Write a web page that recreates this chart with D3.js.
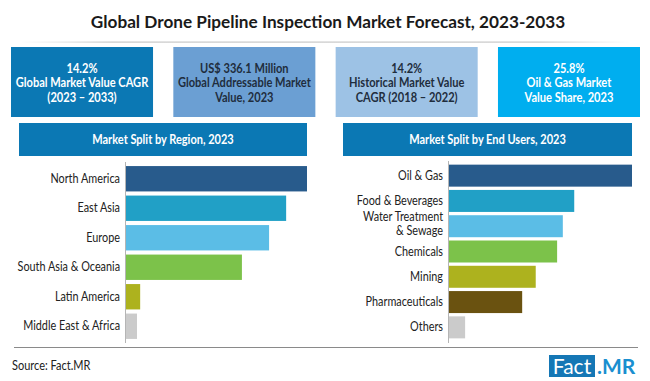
<!DOCTYPE html>
<html><head><meta charset="utf-8">
<script src="https://cdn.jsdelivr.net/npm/d3@7"></script>
<style>body{margin:0;background:#fff}svg{display:block}</style>
</head><body><svg id="c" width="650" height="381"></svg>
<script>
const title = "Global Drone Pipeline Inspection Market Forecast, 2023-2033";
const kpiLines = [
  ["14.2%", "Global Market Value CAGR", "(2023 \u2013 2033)"],
  ["US$ 336.1 Million", "Global Addressable Market", "Value, 2023"],
  ["14.2%", "Historical Market Value", "CAGR (2018 \u2013 2022)"],
  ["25.8%", "Oil & Gas Market", "Value Share, 2023"]
];
const kpiFills = ["#0b78b4", "#6b9fd3", "#9dc2e5", "#00aeef"];
const kpiText = ["#ffffff", "#1f2d3d", "#1f2d3d", "#ffffff"];

const regionTitle = "Market Split by Region, 2023";
const regions = ["North America", "East Asia", "Europe", "South Asia & Oceania", "Latin America", "Middle East & Africa"];
const regionValues = [28.8, 25.5, 22.8, 18.5, 2.4, 1.9];

const userTitle = "Market Split by End Users, 2023";
const endUsers = ["Oil & Gas", "Food & Beverages", "Water Treatment\n& Sewage", "Chemicals", "Mining", "Pharmaceuticals", "Others"];
const endUserValues = [25.8, 17.7, 16.1, 15.3, 12.3, 10.4, 2.4];

const barColors = ["#285b8c", "#21a0c6", "#5bbde6", "#7cc24a", "#adb21e", "#6a5210", "#cbcbcb"];
const regionColors = ["#285b8c", "#21a0c6", "#5bbde6", "#7cc24a", "#adb21e", "#cbcbcb"];

const svg = d3.select("#c");
const F = "Lato, 'Open Sans', sans-serif";

// narrow Lato toward Calibri proportions
function condense(sel, k) {
  sel.each(function() {
    const w = this.getComputedTextLength();
    d3.select(this).attr("textLength", w * k).attr("lengthAdjust", "spacingAndGlyphs");
  });
}

// Title
svg.append("text").attr("x", 328).attr("y", 28).attr("text-anchor", "middle")
  .attr("font-family", F).attr("font-weight", 700).attr("font-size", 17.2).attr("fill", "#1a1a1a").text(title);
const lg = svg.append("defs").append("linearGradient").attr("id", "sep");
lg.append("stop").attr("offset", "0%").attr("stop-color", "#d0d0d0").attr("stop-opacity", 0);
lg.append("stop").attr("offset", "15%").attr("stop-color", "#c8c8c8");
lg.append("stop").attr("offset", "85%").attr("stop-color", "#c8c8c8");
lg.append("stop").attr("offset", "100%").attr("stop-color", "#d0d0d0").attr("stop-opacity", 0);
svg.append("rect").attr("x", 20).attr("y", 41.5).attr("width", 610).attr("height", 1.2).attr("fill", "url(#sep)");

// KPI boxes
const kx = d3.scaleBand().domain(d3.range(4)).range([11, 640]).paddingInner(0.125);
kpiLines.forEach((lines, i) => {
  const g = svg.append("g");
  g.append("rect").attr("x", kx(i)).attr("y", 47).attr("width", kx.bandwidth()).attr("height", 70).attr("fill", kpiFills[i]);
  lines.forEach((t, j) => {
    g.append("text").attr("x", kx(i) + kx.bandwidth() / 2).attr("y", 72.5 + j * 14.6)
      .attr("text-anchor", "middle").attr("font-family", F).attr("font-weight", 700)
      .attr("font-size", 13.2).attr("fill", kpiText[i]).text(t).call(condense, 0.84);
  });
});

function panel(axisX, x1, yTop, yBot, cats, vals, colors, head, hx0, hx1, pad) {
  const g = svg.append("g");
  g.append("rect").attr("x", hx0).attr("y", 123).attr("width", hx1 - hx0).attr("height", 33).attr("fill", "#0b78b4");
  g.append("text").attr("x", (hx0 + hx1) / 2).attr("y", 143.8).attr("text-anchor", "middle")
    .attr("font-family", F).attr("font-weight", 700).attr("font-size", 12.8).attr("fill", "#fff").text(head)
    .call(condense, 0.86);
  const y = d3.scaleBand().domain(cats).range([yTop, yBot]).paddingInner(pad).paddingOuter(pad / 2);
  const x = d3.scaleLinear().domain([0, d3.max(vals)]).range([axisX, x1]);
  g.selectAll("rect.bar").data(cats).join("rect").attr("class", "bar")
    .attr("x", axisX).attr("y", d => y(d)).attr("height", y.bandwidth())
    .attr("width", (d, i) => x(vals[i]) - axisX).attr("fill", (d, i) => colors[i]);
  const ax = g.append("g").attr("transform", `translate(${axisX},0)`)
    .call(d3.axisLeft(y).tickSize(0).tickPadding(5));
  ax.select(".domain").remove();
  g.append("line").attr("x1", axisX + 0.5).attr("x2", axisX + 0.5).attr("y1", yTop - 2).attr("y2", 343)
    .attr("stroke", "#b5b5b5").attr("stroke-width", 1);
  ax.selectAll(".tick text").attr("font-family", F).attr("font-size", 12.6).attr("fill", "#222")
    .each(function(d) {
      const parts = d.split("\n");
      if (parts.length > 1) {
        const t = d3.select(this).text(null);
        parts.forEach((p, k) => t.append("tspan").attr("x", -5).attr("dy", k === 0 ? "-0.4em" : "1.1em").text(p));
        t.selectAll("tspan").call(condense, 0.86);
      } else {
        d3.select(this).call(condense, 0.86);
      }
    });
}

panel(125, 307, 164, 341, regions, regionValues, regionColors, regionTitle, 19, 307, 0.14);
panel(448, 632, 163, 340, endUsers, endUserValues, barColors, userTitle, 343, 632, 0.13);

// bottom line
svg.append("line").attr("x1", 14).attr("x2", 638).attr("y1", 347.5).attr("y2", 347.5).attr("stroke", "#8a8a8a").attr("stroke-width", 1);

// footer
svg.append("text").attr("x", 12).attr("y", 370).attr("font-family", F).attr("font-size", 12.5).attr("fill", "#222")
  .text("Source: Fact.MR").call(condense, 0.88);
svg.append("rect").attr("x", 549).attr("y", 355).attr("width", 46).attr("height", 22).attr("fill", "#1577b5");
svg.append("text").attr("x", 572).attr("y", 374).attr("text-anchor", "middle").attr("font-family", F)
  .attr("font-size", 21).attr("fill", "#fff").text("Fact");
svg.append("text").attr("x", 597).attr("y", 374).attr("font-family", F).attr("font-weight", 700)
  .attr("font-size", 21).attr("fill", "#1a8fd0").text(".MR");
</script></body></html>
